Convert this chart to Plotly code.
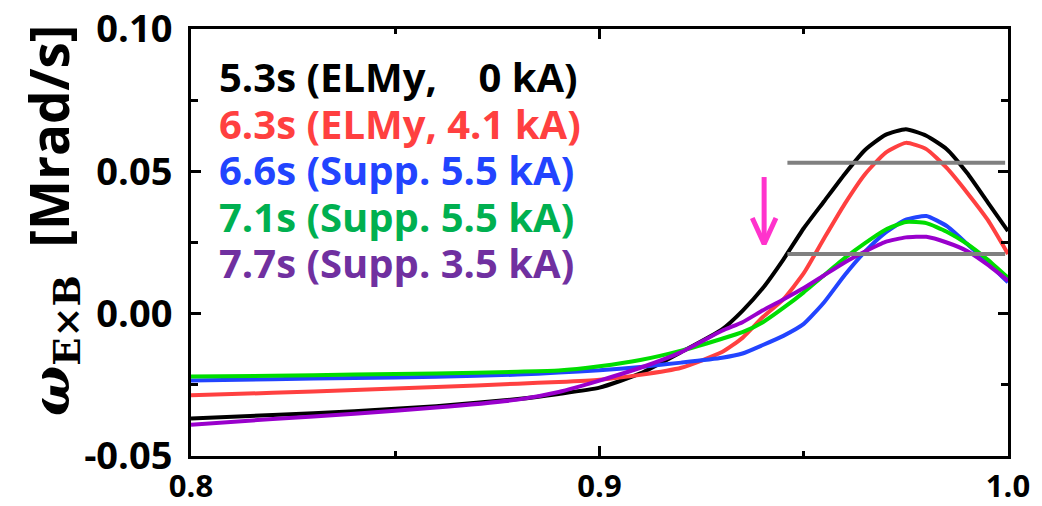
import plotly.graph_objects as go

# Normalised radius grid shared by all profiles
rho = [0.80, 0.82, 0.84, 0.86, 0.88, 0.89, 0.90, 0.91, 0.92, 0.93, 0.935,
       0.94, 0.945, 0.95, 0.955, 0.96, 0.965, 0.97, 0.975, 0.98, 0.985,
       0.99, 0.995, 1.00]

# E x B rotation frequency profiles [Mrad/s]
w_53 = [-0.0368, -0.0356, -0.0343, -0.0325, -0.0300, -0.0282, -0.0260, -0.0210,
        -0.0135, -0.0055, 0.0010, 0.0090, 0.0190, 0.0300, 0.0395, 0.0490,
        0.0575, 0.0628, 0.0648, 0.0625, 0.0578, 0.0494, 0.0392, 0.0290]
w_63 = [-0.0287, -0.0278, -0.0268, -0.0258, -0.0246, -0.0240, -0.0232, -0.0215,
        -0.0190, -0.0135, -0.0085, -0.0012, 0.0050, 0.0142, 0.0265, 0.0385,
        0.0490, 0.0565, 0.0600, 0.0578, 0.0512, 0.0425, 0.0330, 0.0210]
w_66 = [-0.0235, -0.0230, -0.0226, -0.0222, -0.0214, -0.0207, -0.0199, -0.0187,
        -0.0172, -0.0155, -0.0140, -0.0110, -0.0078, -0.0036, 0.0040, 0.0135,
        0.0218, 0.0285, 0.0330, 0.0343, 0.0308, 0.0245, 0.0180, 0.0110]
w_71 = [-0.0221, -0.0218, -0.0214, -0.0210, -0.0204, -0.0200, -0.0185, -0.0163,
        -0.0130, -0.0088, -0.0065, -0.0030, 0.0020, 0.0075, 0.0135, 0.0195,
        0.0248, 0.0295, 0.0322, 0.0318, 0.0288, 0.0245, 0.0190, 0.0126]
w_77 = [-0.0390, -0.0370, -0.0352, -0.0330, -0.0302, -0.0275, -0.0235, -0.0190,
        -0.0135, -0.0060, -0.0030, 0.0012, 0.0050, 0.0090, 0.0135, 0.0180,
        0.0218, 0.0252, 0.0268, 0.0270, 0.0250, 0.0220, 0.0172, 0.0116]

labels = ["5.3s (ELMy,\u00a0\u00a0\u00a0\u00a00 kA)", "6.3s (ELMy, 4.1 kA)",
          "6.6s (Supp. 5.5 kA)", "7.1s (Supp. 5.5 kA)", "7.7s (Supp. 3.5 kA)"]
line_colors = ["#000000", "#FF4040", "#2244FF", "#00DD00", "#9900CC"]
text_colors = ["#000000", "#FF4040", "#2244FF", "#00B050", "#7030A0"]
profiles = [w_53, w_63, w_66, w_71, w_77]

# Axis ticks
x_ticks = [0.8, 0.9, 1.0]
x_ticktext = ["0.8", "0.9", "1.0"]
y_ticks = [-0.05, 0.0, 0.05, 0.10]
y_ticktext = ["-0.05", "0.00", "0.05", "0.10"]

# Peak reference levels
ref_x = [0.946, 0.9993]
ref_hi = [0.053, 0.053]
ref_lo = [0.021, 0.021]

# Arrow marking the drop of the peak
arrow_x = 0.9403
arrow_top = 0.048
arrow_tip = 0.0245
head_dx = 0.0029
head_dy = 0.0091

fig = go.Figure()
for w, c in zip(profiles, line_colors):
    fig.add_trace(go.Scatter(x=rho, y=w, mode="lines",
                             line=dict(color=c, width=4, shape="spline", smoothing=0.5),
                             showlegend=False, hoverinfo="skip"))

for yy in (ref_hi, ref_lo):
    fig.add_trace(go.Scatter(x=ref_x, y=yy, mode="lines",
                             line=dict(color="#808080", width=4),
                             showlegend=False, hoverinfo="skip"))

fig.add_trace(go.Scatter(x=[arrow_x, arrow_x], y=[arrow_top, arrow_tip], mode="lines",
                         line=dict(color="#FF33CC", width=5),
                         showlegend=False, hoverinfo="skip"))
fig.add_trace(go.Scatter(x=[arrow_x - head_dx, arrow_x, arrow_x + head_dx],
                         y=[arrow_tip + head_dy, arrow_tip, arrow_tip + head_dy],
                         mode="lines", line=dict(color="#FF33CC", width=5),
                         showlegend=False, hoverinfo="skip"))

font_main = "Open Sans"
for i, (lab, c) in enumerate(zip(labels, text_colors)):
    fig.add_annotation(x=0.032, y=0.888 - i * 0.109, xref="paper", yref="paper",
                       xanchor="left", yanchor="middle", showarrow=False,
                       text="<b>" + lab + "</b>",
                       font=dict(family=font_main, size=40, color=c))

fig.add_annotation(
    x=-0.1726, y=0.552, xref="paper", yref="paper", showarrow=False,
    textangle=-90, xanchor="center", yanchor="middle",
    text="<span style='font-family:DejaVu Serif'><b><i>ω</i></b>"
         "<sub><b>E×B</b></sub></span><b>\u00a0 [Mrad/s]</b>",
    font=dict(family=font_main, size=53, color="black"))

axis_common = dict(showline=True, linecolor="black", linewidth=3, mirror="allticks",
                   ticks="inside", ticklen=10, tickwidth=3, tickcolor="black",
                   showgrid=False, zeroline=False, automargin=False)

fig.update_xaxes(range=[0.8, 1.0], tickmode="array", tickvals=x_ticks, ticktext=x_ticktext,
                 tickfont=dict(family=font_main, size=31, color="black", weight="bold"),
                 ticklabelstandoff=1,
                 minor=dict(dtick=0.05, tick0=0.8, ticks="inside", ticklen=5, tickwidth=3,
                            tickcolor="black"),
                 **axis_common)
fig.update_yaxes(range=[-0.05, 0.10], tickmode="array", tickvals=y_ticks, ticktext=y_ticktext,
                 tickfont=dict(family=font_main, size=38, color="black", weight="bold"),
                 ticklabelstandoff=8,
                 minor=dict(dtick=0.025, tick0=0, ticks="inside", ticklen=7, tickwidth=3,
                            tickcolor="black"),
                 **axis_common)

fig.update_layout(width=1042, height=506,
                  margin=dict(l=191, r=34, t=29, b=50),
                  plot_bgcolor="white", paper_bgcolor="white")

fig.write_html("out.html")
